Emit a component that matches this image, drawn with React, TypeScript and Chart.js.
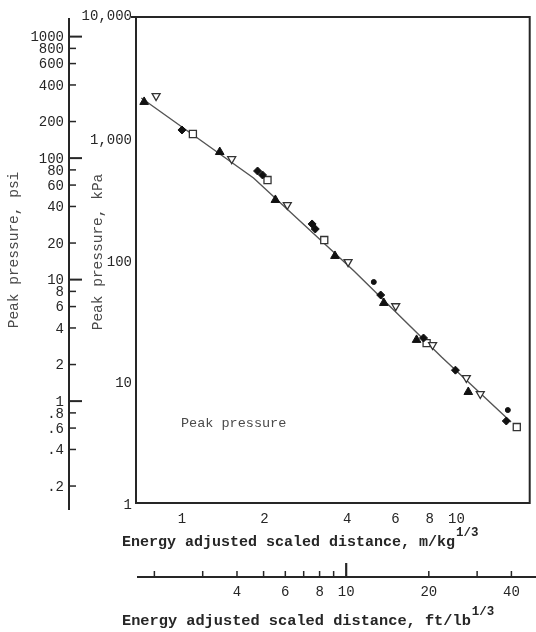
import React, { useEffect, useRef } from "react";
import { Chart, registerables } from "chart.js";

Chart.register(...registerables);

// Energy adjusted scaled distance (m/kg^1/3) and peak pressure (kPa), per symbol group
const solidTriangleDist = [0.728, 1.373, 2.19, 3.61, 5.44, 7.16, 11.05];
const solidTrianglePressure = [2000, 774, 312, 108, 44.3, 22.0, 8.2];

const openTriangleDist = [0.805, 1.518, 2.42, 4.03, 6.01, 8.19, 10.87, 12.22];
const openTrianglePressure = [2239, 678, 284, 96.3, 41.8, 20.0, 10.7, 7.9];

const diamondDist = [1.0, 1.886, 1.966, 2.98, 3.06, 5.3, 7.59, 9.92, 15.2];
const diamondPressure = [1175, 540, 501, 198, 180, 51.5, 22.8, 12.4, 4.73];

const dotDist = [5.0, 15.4];
const dotPressure = [65.9, 5.82];

const squareDist = [1.096, 2.05, 3.3, 7.79, 16.6];
const squarePressure = [1089, 455, 146, 20.7, 4.22];

// Fitted curve through the data
const fitDist = [0.711, 1.823, 4.235, 8.83, 15.82];
const fitPressure = [2154, 473, 81.2, 15.9, 4.64];

// Axis ticks
const kpaTicks = [1, 10, 100, 1000, 10000];
const kpaLabels = ["1", "10", "100", "1,000", "10,000"];
const psiTicks = [1000, 800, 600, 400, 200, 100, 80, 60, 40, 20, 10, 8, 6, 4, 2, 1, 0.8, 0.6, 0.4, 0.2];
const psiLabels = ["1000", "800", "600", "400", "200", "100", "80", "60", "40", "20", "10", "8", "6", "4", "2", "1", ".8", ".6", ".4", ".2"];
const psiMajorTicks = [1000, 100, 10, 1];
const metricTicks = [1, 2, 4, 6, 8, 10];
const imperialTicks = [2, 3, 4, 5, 6, 7, 8, 9, 10, 20, 30, 40];
const imperialLabelTicks = [4, 6, 8, 10, 20, 40];

// Unit conversions
const KPA_PER_PSI = 6.895;
const M_PER_FT = 0.3967; // 1 ft/lb^1/3 in m/kg^1/3

const X_MIN = 0.68;
const X_MAX = 18.5;
const Y_MIN = 1;
const Y_MAX = 10000;

const INK = "#262626";
const SOFT = "#4a4a4a";
const MONO = "'Liberation Mono', 'DejaVu Sans Mono', monospace";

const pts = (xs: number[], ys: number[]) => xs.map((x, i) => ({ x, y: ys[i] }));

function textWithSup(
  ctx: CanvasRenderingContext2D,
  text: string,
  sup: string,
  x: number,
  baseline: number,
  font: string,
  supFont: string,
  rise: number
) {
  ctx.textAlign = "left";
  ctx.textBaseline = "alphabetic";
  ctx.font = font;
  ctx.fillText(text, x, baseline);
  const w = ctx.measureText(text).width;
  ctx.font = supFont;
  ctx.fillText(sup, x + w + 1, baseline - rise);
}

const paperAxes = {
  id: "paperAxes",
  afterDraw(chart: any) {
    const { ctx, chartArea: a, scales } = chart;
    const xs = scales.x;
    const ys = scales.y;
    const ft = scales.ft;
    const psi = scales.psi;
    ctx.save();

    // plot frame
    ctx.strokeStyle = INK;
    ctx.lineWidth = 2;
    ctx.strokeRect(a.left, a.top, a.right - a.left, a.bottom - a.top);
    ctx.beginPath();
    ctx.moveTo(a.left - 5, a.top);
    ctx.lineTo(a.left, a.top);
    ctx.stroke();

    // kPa tick labels
    ctx.fillStyle = INK;
    ctx.font = `14px ${MONO}`;
    ctx.textAlign = "right";
    ctx.textBaseline = "middle";
    kpaTicks.forEach((v, i) => {
      const off = v === Y_MAX ? -1 : 2;
      ctx.fillText(kpaLabels[i], a.left - 4, ys.getPixelForValue(v) + off);
    });

    // psi axis
    const px = 69;
    ctx.lineWidth = 2;
    ctx.beginPath();
    ctx.moveTo(px, 18);
    ctx.lineTo(px, 510);
    ctx.stroke();
    ctx.font = `14px ${MONO}`;
    ctx.textAlign = "right";
    ctx.textBaseline = "middle";
    psiTicks.forEach((v, i) => {
      const py = psi.getPixelForValue(v);
      const major = psiMajorTicks.includes(v);
      ctx.lineWidth = major ? 2 : 1.5;
      ctx.beginPath();
      ctx.moveTo(px, py);
      ctx.lineTo(px + (major ? 13 : 7), py);
      ctx.stroke();
      ctx.fillText(psiLabels[i], px - 5, py + 1);
    });

    // rotated axis titles
    ctx.fillStyle = SOFT;
    ctx.font = `14.5px ${MONO}`;
    ctx.textAlign = "center";
    ctx.textBaseline = "middle";
    ctx.save();
    ctx.translate(14, 250);
    ctx.rotate(-Math.PI / 2);
    ctx.fillText("Peak pressure, psi", 0, 0);
    ctx.restore();
    ctx.save();
    ctx.translate(98, 252);
    ctx.rotate(-Math.PI / 2);
    ctx.fillText("Peak pressure, kPa", 0, 0);
    ctx.restore();

    // metric x tick labels
    ctx.fillStyle = INK;
    ctx.font = `14px ${MONO}`;
    ctx.textAlign = "center";
    ctx.textBaseline = "middle";
    metricTicks.forEach((v) => {
      ctx.fillText(String(v), xs.getPixelForValue(v), 519);
    });

    // metric axis title
    textWithSup(
      ctx,
      "Energy adjusted scaled distance, m/kg",
      "1/3",
      122,
      546,
      `bold 15px ${MONO}`,
      `bold 12.5px ${MONO}`,
      10
    );

    // imperial axis
    const ay = 577;
    ctx.strokeStyle = INK;
    ctx.lineWidth = 2;
    ctx.beginPath();
    ctx.moveTo(137, ay);
    ctx.lineTo(536, ay);
    ctx.stroke();
    imperialTicks.forEach((v) => {
      const tx = ft.getPixelForValue(v);
      const big = v === 10;
      ctx.lineWidth = big ? 2.2 : 1.5;
      ctx.beginPath();
      ctx.moveTo(tx, ay);
      ctx.lineTo(tx, ay - (big ? 14 : 6));
      ctx.stroke();
    });
    ctx.font = `14px ${MONO}`;
    ctx.textAlign = "center";
    ctx.textBaseline = "middle";
    imperialLabelTicks.forEach((v) => {
      ctx.fillText(String(v), ft.getPixelForValue(v), 592);
    });

    textWithSup(
      ctx,
      "Energy adjusted scaled distance, ft/lb",
      "1/3",
      122,
      625,
      `bold 15.3px ${MONO}`,
      `bold 12.5px ${MONO}`,
      10
    );

    // in-plot caption
    ctx.fillStyle = SOFT;
    ctx.font = `13.5px ${MONO}`;
    ctx.textAlign = "left";
    ctx.textBaseline = "middle";
    ctx.fillText("Peak pressure", 181, 423);

    ctx.restore();
  },
};

export default function App() {
  const canvasRef = useRef<HTMLCanvasElement | null>(null);

  useEffect(() => {
    const canvas = canvasRef.current;
    if (!canvas) return;
    const chart = new Chart(canvas, {
      type: "scatter",
      data: {
        datasets: [
          {
            type: "line",
            label: "fit",
            data: pts(fitDist, fitPressure),
            borderColor: "#555555",
            borderWidth: 1.4,
            pointRadius: 0,
            showLine: true,
            fill: false,
            tension: 0,
            order: 10,
          } as any,
          {
            label: "solid triangle",
            data: pts(solidTriangleDist, solidTrianglePressure),
            pointStyle: "triangle",
            pointRadius: 5,
            backgroundColor: "#111111",
            borderColor: "#111111",
            borderWidth: 1,
            order: 1,
          },
          {
            label: "open triangle",
            data: pts(openTriangleDist, openTrianglePressure),
            pointStyle: "triangle",
            rotation: 180,
            pointRadius: 4.6,
            backgroundColor: "#ffffff",
            borderColor: "#333333",
            borderWidth: 1.3,
            order: 2,
          },
          {
            label: "diamond",
            data: pts(diamondDist, diamondPressure),
            pointStyle: "rectRot",
            pointRadius: 4,
            backgroundColor: "#111111",
            borderColor: "#111111",
            borderWidth: 1,
            order: 1,
          },
          {
            label: "dot",
            data: pts(dotDist, dotPressure),
            pointStyle: "circle",
            pointRadius: 2.5,
            backgroundColor: "#111111",
            borderColor: "#111111",
            borderWidth: 1,
            order: 1,
          },
          {
            label: "square",
            data: pts(squareDist, squarePressure),
            pointStyle: "rect",
            pointRadius: 5,
            backgroundColor: "#ffffff",
            borderColor: "#333333",
            borderWidth: 1.3,
            order: 2,
          },
        ],
      },
      options: {
        animation: false,
        responsive: false,
        devicePixelRatio: 1,
        events: [],
        layout: { padding: { left: 136, top: 17, right: 4, bottom: 129 } },
        plugins: {
          legend: { display: false },
          tooltip: { enabled: false },
        },
        scales: {
          x: { type: "logarithmic", min: X_MIN, max: X_MAX, bounds: "data", display: false },
          y: { type: "logarithmic", min: Y_MIN, max: Y_MAX, bounds: "data", display: false },
          ft: {
            type: "logarithmic",
            axis: "x",
            position: "bottom",
            min: X_MIN / M_PER_FT,
            max: X_MAX / M_PER_FT,
            bounds: "data",
            display: false,
          },
          psi: {
            type: "logarithmic",
            axis: "y",
            position: "left",
            min: Y_MIN / KPA_PER_PSI,
            max: Y_MAX / KPA_PER_PSI,
            bounds: "data",
            display: false,
          },
        } as any,
      },
      plugins: [paperAxes],
    });
    return () => chart.destroy();
  }, []);

  return (
    <canvas
      ref={canvasRef}
      width={536}
      height={632}
      style={{ position: "absolute", left: 0, top: 0, width: 536, height: 632, display: "block" }}
    />
  );
}
